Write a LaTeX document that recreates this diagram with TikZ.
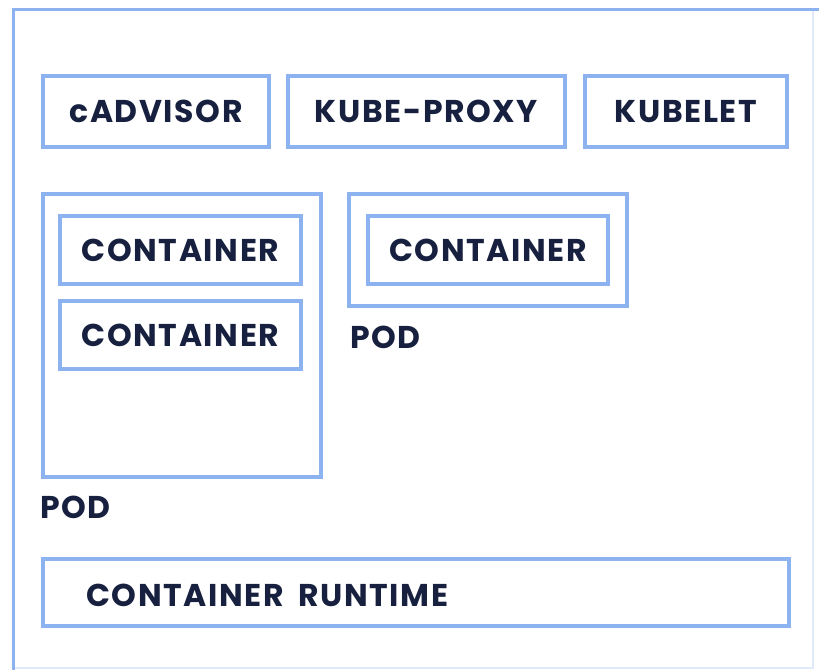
\documentclass[tikz,border=0pt]{standalone}
\usepackage{fontspec}
\setmainfont{Poppins}[LetterSpace=5,WordSpace=1.8]
\definecolor{boxblue}{RGB}{141,178,240}
\definecolor{paleblue}{RGB}{225,234,250}
\definecolor{navy}{RGB}{23,33,63}
\tikzset{
  compbox/.style={draw=boxblue,line width=3.5pt,inner sep=0pt,
    font=\fontsize{31.5}{34}\selectfont\bfseries,text=navy},
  podbox/.style={draw=boxblue,line width=3.5pt,inner sep=0pt},
  lbl/.style={anchor=west,inner sep=0pt,
    font=\fontsize{31.5}{34}\selectfont\bfseries,text=navy}
}
\begin{document}
\begin{tikzpicture}[x=1pt,y=-1pt]
        \useasboundingbox (0,0) rectangle (819,670);

        % Draw the node frame
        \draw[paleblue,line width=1.5pt] (813,9) -- (813,668) -- (13,668);
        \draw[boxblue,line width=3pt] (819,9) -- (13.5,9) -- (13.5,670);

        % Draw the node agents
        \node[compbox,minimum width=226pt,minimum height=71pt] (cadvisor) at (156,111.5) {cADVISOR};
        \node[compbox,minimum width=277pt,minimum height=71pt] (kubeproxy) at (426.5,111.5) {KUBE-PROXY};
        \node[compbox,minimum width=202pt,minimum height=71pt] (kubelet) at (686,111.5) {KUBELET};

        % Draw the pod with two containers
        \node[podbox,minimum width=278pt,minimum height=283pt] (podA) at (182,335.5) {};
        \node[compbox,minimum width=241pt,minimum height=68pt] (contA) at (180.5,250) {CONTAINER};
        \node[compbox,minimum width=241pt,minimum height=68pt] (contB) at (180.5,335) {CONTAINER};
        \node[lbl] (podAlbl) at (40,507) {POD};

        % Draw the pod with one container
        \node[podbox,minimum width=278pt,minimum height=112pt] (podB) at (488,250) {};
        \node[compbox,minimum width=240pt,minimum height=68pt] (contC) at (488,250) {CONTAINER};
        \node[lbl] (podBlbl) at (350,337) {POD};

        % Draw the container runtime
        \node[podbox,minimum width=746pt,minimum height=67pt] (runtime) at (416,592.5) {};
        \node[lbl] (runtimelbl) at (86,595) {CONTAINER RUNTIME};
    \end{tikzpicture}
\end{document}
